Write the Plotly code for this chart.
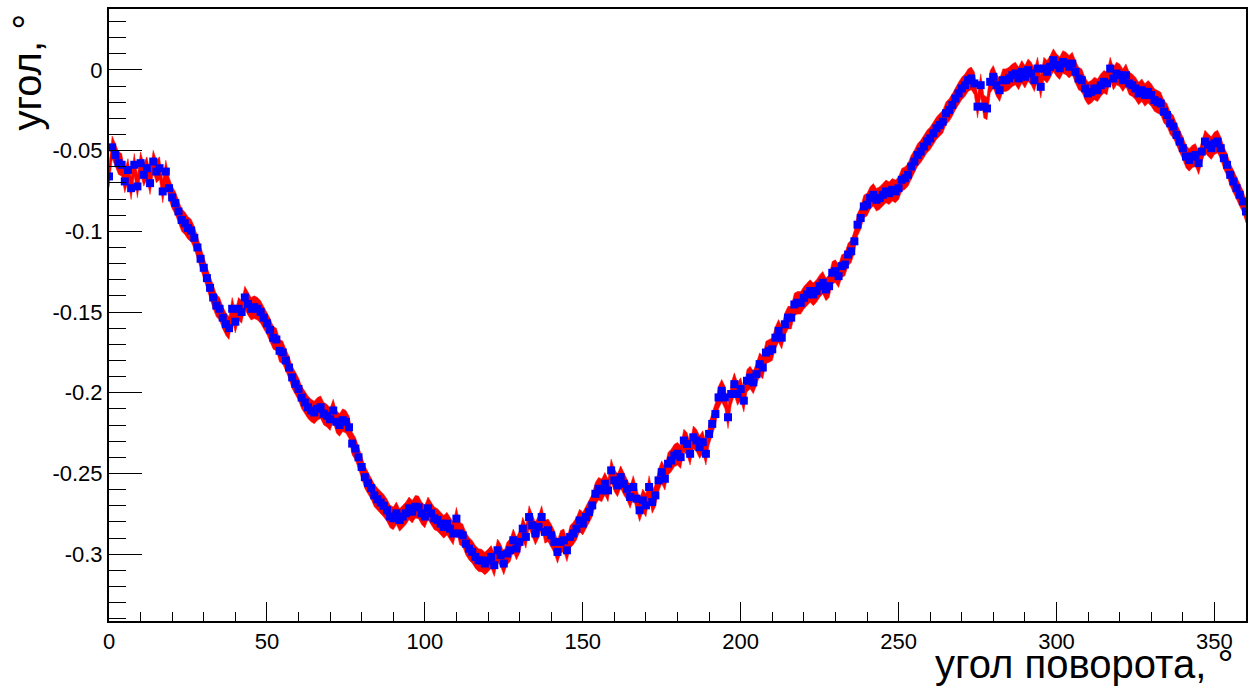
import plotly.graph_objects as go

# rotation angle, degrees
angles = list(range(0, 361))

values = [
    -0.0660, -0.0480, -0.0527, -0.0578, -0.0588, -0.0691, -0.0620, -0.0733, -0.0588, -0.0722,
    -0.0578, -0.0650, -0.0609, -0.0702, -0.0568, -0.0630, -0.0609, -0.0753, -0.0630, -0.0733,
    -0.0790, -0.0825, -0.0877, -0.0930, -0.0950, -0.0980, -0.0995, -0.1040, -0.1100, -0.1170,
    -0.1226, -0.1290, -0.1350, -0.1410, -0.1460, -0.1480, -0.1535, -0.1575, -0.1600, -0.1480,
    -0.1560, -0.1480, -0.1500, -0.1410, -0.1450, -0.1480, -0.1470, -0.1480, -0.1500, -0.1535,
    -0.1570, -0.1610, -0.1660, -0.1670, -0.1740, -0.1750, -0.1800, -0.1844, -0.1905, -0.1945,
    -0.1977, -0.2030, -0.2060, -0.2090, -0.2110, -0.2122, -0.2100, -0.2090, -0.2130, -0.2142,
    -0.2164, -0.2110, -0.2180, -0.2200, -0.2170, -0.2180, -0.2214, -0.2315, -0.2346, -0.2400,
    -0.2460, -0.2523, -0.2560, -0.2590, -0.2636, -0.2660, -0.2680, -0.2700, -0.2728, -0.2767,
    -0.2778, -0.2747, -0.2788, -0.2767, -0.2747, -0.2716, -0.2737, -0.2706, -0.2710, -0.2747,
    -0.2767, -0.2716, -0.2747, -0.2778, -0.2788, -0.2811, -0.2831, -0.2811, -0.2842, -0.2872,
    -0.2780, -0.2872, -0.2883, -0.2935, -0.2966, -0.2986, -0.3017, -0.3037, -0.3040, -0.3058,
    -0.3040, -0.3017, -0.3068, -0.2976, -0.3006, -0.3058, -0.2996, -0.2976, -0.2914, -0.2965,
    -0.2924, -0.2842, -0.2893, -0.2770, -0.2821, -0.2872, -0.2831, -0.2770, -0.2862, -0.2852,
    -0.2883, -0.2924, -0.2986, -0.2924, -0.2914, -0.2976, -0.2893, -0.2872, -0.2842, -0.2791,
    -0.2811, -0.2770, -0.2739, -0.2698, -0.2626, -0.2595, -0.2605, -0.2564, -0.2605, -0.2481,
    -0.2543, -0.2574, -0.2523, -0.2564, -0.2595, -0.2646, -0.2584, -0.2656, -0.2728, -0.2667,
    -0.2698, -0.2584, -0.2677, -0.2636, -0.2543, -0.2492, -0.2533, -0.2440, -0.2420, -0.2389,
    -0.2378, -0.2399, -0.2296, -0.2317, -0.2378, -0.2276, -0.2296, -0.2337, -0.2306, -0.2378,
    -0.2255, -0.2193, -0.2132, -0.2029, -0.1988, -0.2029, -0.2152, -0.2008, -0.1947, -0.2008,
    -0.1977, -0.2049, -0.1926, -0.1906, -0.1936, -0.1885, -0.1823, -0.1844, -0.1751, -0.1741,
    -0.1731, -0.1659, -0.1617, -0.1659, -0.1576, -0.1535, -0.1535, -0.1453, -0.1443, -0.1443,
    -0.1412, -0.1391, -0.1370, -0.1391, -0.1370, -0.1340, -0.1319, -0.1360, -0.1340, -0.1257,
    -0.1247, -0.1278, -0.1216, -0.1206, -0.1144, -0.1124, -0.1062, -0.0959, -0.0918, -0.0846,
    -0.0835, -0.0794, -0.0774, -0.0805, -0.0794, -0.0774, -0.0753, -0.0764, -0.0743, -0.0753,
    -0.0733, -0.0681, -0.0671, -0.0650, -0.0599, -0.0568, -0.0527, -0.0506, -0.0475, -0.0444,
    -0.0424, -0.0393, -0.0362, -0.0341, -0.0321, -0.0269, -0.0249, -0.0218, -0.0177, -0.0146,
    -0.0115, -0.0095, -0.0064, -0.0053, -0.0084, -0.0228, -0.0095, -0.0228, -0.0239, -0.0074,
    -0.0043, -0.0095, -0.0126, -0.0064, -0.0064, -0.0053, -0.0033, -0.0023, -0.0053, -0.0012,
    -0.0043, -0.0002, -0.0023, -0.0064, 0.0008, -0.0105, 0.0008, -0.0012, 0.0019, 0.0060,
    0.0030, 0.0010, 0.0049, 0.0039, 0.0019, 0.0039, -0.0012, -0.0054, -0.0064, -0.0115,
    -0.0146, -0.0136, -0.0115, -0.0126, -0.0095, -0.0074, -0.0084, 0.0008, -0.0054, -0.0023,
    -0.0033, -0.0064, -0.0033, -0.0084, -0.0095, -0.0115, -0.0146, -0.0126, -0.0156, -0.0136,
    -0.0156, -0.0187, -0.0198, -0.0208, -0.0259, -0.0280, -0.0331, -0.0352, -0.0403, -0.0444,
    -0.0485, -0.0537, -0.0558, -0.0537, -0.0527, -0.0578, -0.0506, -0.0444, -0.0465, -0.0485,
    -0.0455, -0.0444, -0.0485, -0.0547, -0.0588, -0.0650, -0.0691, -0.0733, -0.0774, -0.0815,
    -0.0877,
]

# estimated uncertainty of each measurement, degrees
angle_error = 0.007
errors = [angle_error for _ in values]

x_tick_vals = [0, 50, 100, 150, 200, 250, 300, 350]
x_tick_text = ["0", "50", "100", "150", "200", "250", "300", "350"]
y_tick_vals = [0, -0.05, -0.1, -0.15, -0.2, -0.25, -0.3]
y_tick_text = ["0", "-0.05", "-0.1", "-0.15", "-0.2", "-0.25", "-0.3"]

x_title = "угол поворота, °"
y_title = "угол, °"

upper = [v + e for v, e in zip(values, errors)]
lower = [v - e for v, e in zip(values, errors)]

FONT = "Liberation Sans, Arial, Helvetica, sans-serif"

fig = go.Figure()
fig.add_trace(go.Scatter(
    x=angles + angles[::-1],
    y=upper + lower[::-1],
    fill="toself",
    fillcolor="#ff0000",
    line=dict(width=0.5, color="#ff0000"),
    mode="lines",
    hoverinfo="skip",
    showlegend=False,
))
fig.add_trace(go.Scatter(
    x=angles,
    y=values,
    mode="markers",
    marker=dict(symbol="square", size=8, color="#0000ff", line=dict(width=0)),
    showlegend=False,
))

fig.update_layout(
    width=1259,
    height=693,
    margin=dict(l=109, r=13, t=7, b=72),
    paper_bgcolor="white",
    plot_bgcolor="white",
    font=dict(family=FONT, color="black", size=22),
    showlegend=False,
)

fig.update_xaxes(
    range=[0, 360],
    showgrid=False,
    zeroline=False,
    showline=True,
    linecolor="black",
    linewidth=2,
    mirror=True,
    ticks="inside",
    ticklen=19,
    tickwidth=1.3,
    tickcolor="black",
    tickmode="array",
    tickvals=x_tick_vals,
    ticktext=x_tick_text,
    tickfont=dict(size=22, family=FONT),
    minor=dict(dtick=10, tick0=0, ticks="inside", ticklen=9, tickwidth=1.3, tickcolor="black", showgrid=False),
)
fig.update_yaxes(
    range=[-0.3414, 0.0377],
    showgrid=False,
    zeroline=False,
    showline=True,
    linecolor="black",
    linewidth=2,
    mirror=True,
    ticks="inside",
    ticklen=33,
    tickwidth=1.3,
    tickcolor="black",
    tickmode="array",
    tickvals=y_tick_vals,
    ticktext=y_tick_text,
    tickfont=dict(size=22, family=FONT),
    minor=dict(dtick=0.01, tick0=0, ticks="inside", ticklen=17, tickwidth=1.3, tickcolor="black", showgrid=False),
)

fig.add_annotation(
    text=x_title, xref="paper", yref="paper",
    x=1, y=0, xanchor="right", yanchor="top", xshift=-11, yshift=-19,
    showarrow=False, font=dict(size=40, family=FONT, color="black"),
)
fig.add_annotation(
    text=y_title, xref="paper", yref="paper",
    x=0, y=1, xanchor="right", yanchor="top", xshift=-59, yshift=-3,
    textangle=-90,
    showarrow=False, font=dict(size=40, family=FONT, color="black"),
)

fig.write_html(
    "out.html",
    config={"displayModeBar": False},
    post_script="document.body.style.margin='0';document.body.style.padding='0';",
)
